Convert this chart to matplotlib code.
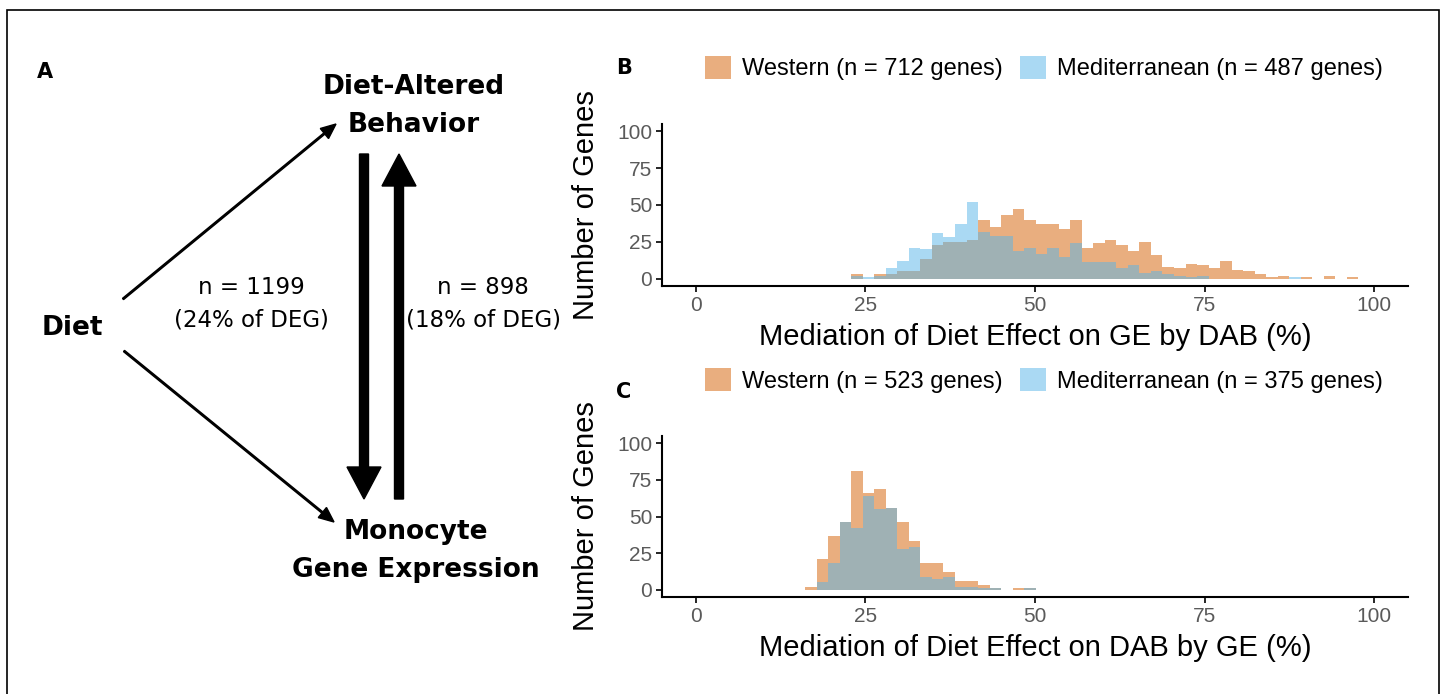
import numpy as np
import matplotlib.pyplot as plt
from matplotlib.patches import Rectangle

plt.rcParams['font.family'] = ['Liberation Sans', 'DejaVu Sans']

# Histogram bins (percent mediation), width 1.7
bin_width = 1.7
b_first_edge = 22.9
c_first_edge = 16.1

# Panel B: mediation of diet effect on GE by DAB
west_b = [3, 0, 3, 3, 5, 5, 13, 23, 25, 25, 26, 40, 35, 43, 47, 40, 37, 37, 34, 40,
          21, 24, 26, 23, 19, 25, 16, 8, 7, 10, 9, 7, 12, 6, 5, 3, 1, 2, 0, 1,
          0, 2, 0, 1]
med_b = [2, 1, 2, 7, 12, 21, 20, 31, 28, 37, 52, 32, 29, 29, 19, 21, 17, 21, 15, 24,
         11, 11, 11, 7, 9, 4, 5, 3, 2, 1, 2, 0, 0, 0, 0, 0, 0, 0, 1, 0,
         0, 0, 0, 0]

# Panel C: mediation of diet effect on DAB by GE
west_c = [2, 21, 37, 46, 81, 66, 69, 56, 46, 33, 18, 18, 12, 6, 6, 3, 1, 0, 1, 1]
med_c = [0, 5, 18, 46, 42, 64, 55, 56, 28, 29, 9, 7, 9, 2, 2, 1, 1, 0, 0, 1]

legend_b = ['Western (n = 712 genes)', 'Mediterranean (n = 487 genes)']
legend_c = ['Western (n = 523 genes)', 'Mediterranean (n = 375 genes)']
ticks = [0, 25, 50, 75, 100]

west_col = '#D55E00'
med_col = '#56B4E9'

W, H = 1444, 694
fig = plt.figure(figsize=(W / 100, H / 100), dpi=100)

# outer frame
fig.add_artist(Rectangle((7 / W, -0.1), 1432 / W, 1.1 - 10 / H, transform=fig.transFigure,
                         fill=False, edgecolor='black', lw=1.2))


def hist_panel(rect, west, med, first_edge, labels, xlabel):
    ax = fig.add_axes(rect)
    edges = first_edge + bin_width * np.arange(len(west))
    h1 = ax.bar(edges, west, width=bin_width, align='edge', color=west_col,
                alpha=0.5, linewidth=0)
    h2 = ax.bar(edges, med, width=bin_width, align='edge', color=med_col,
                alpha=0.5, linewidth=0)
    ax.set_xlim(-5, 105)
    ax.set_ylim(-5, 105)
    ax.set_xticks(ticks)
    ax.set_yticks(ticks)
    for s in ['top', 'right']:
        ax.spines[s].set_visible(False)
    for s in ['left', 'bottom']:
        ax.spines[s].set_linewidth(1.5)
    ax.tick_params(length=4, width=1.2, labelsize=15, labelcolor='#5a5a5a', pad=3)
    ax.set_xlabel(xlabel, fontsize=21, labelpad=6)
    ax.set_ylabel('Number of Genes', fontsize=21, labelpad=12)
    ax.legend([h1, h2], labels, loc='center', bbox_to_anchor=(0.512, 1.345), ncol=2,
              frameon=False, fontsize=17, handlelength=1.1, handleheight=1.1,
              handletextpad=0.5, columnspacing=0.7, borderaxespad=0)
    return ax


hist_panel([662 / W, 1 - 286 / H, 746 / W, 162 / H], west_b, med_b, b_first_edge,
           legend_b, 'Mediation of Diet Effect on GE by DAB (%)')
hist_panel([662 / W, 1 - 597 / H, 746 / W, 161 / H], west_c, med_c, c_first_edge,
           legend_c, 'Mediation of Diet Effect on DAB by GE (%)')

# Panel A: path diagram drawn in pixel coordinates
ax = fig.add_axes([0, 0, 1, 1])
ax.set_xlim(0, W)
ax.set_ylim(H, 0)
ax.axis('off')

for letter, x, y in [('A', 45, 72), ('B', 624, 68), ('C', 624, 392)]:
    ax.text(x, y, letter, fontsize=15, fontweight='bold', ha='center', va='center',
            family='DejaVu Sans')

node_kw = dict(fontsize=19, fontweight='bold', ha='center', va='center',
               family='DejaVu Sans', linespacing=1.6)
ax.text(414, 106, 'Diet-Altered\nBehavior', **node_kw)
ax.text(72, 328, 'Diet', **node_kw)
ax.text(416, 551, 'Monocyte\nGene Expression', **node_kw)

n_kw = dict(fontsize=16.5, ha='center', va='center', family='DejaVu Sans',
            linespacing=1.55)
ax.text(251, 304, 'n = 1199\n(24% of DEG)', **n_kw)
ax.text(483, 304, 'n = 898\n(18% of DEG)', **n_kw)

thin = dict(width=1.6, head_width=13, head_length=15, length_includes_head=True,
            color='black')
ax.arrow(123, 299, 336 - 123, 124 - 299, **thin)
ax.arrow(124, 351, 334 - 124, 522 - 351, **thin)

thick = dict(width=9, head_width=34, head_length=32, length_includes_head=True,
             color='black')
ax.arrow(364, 154, 0, 499 - 154, **thick)
ax.arrow(399, 499, 0, 154 - 499, **thick)

fig.savefig('out.png', dpi=100)
